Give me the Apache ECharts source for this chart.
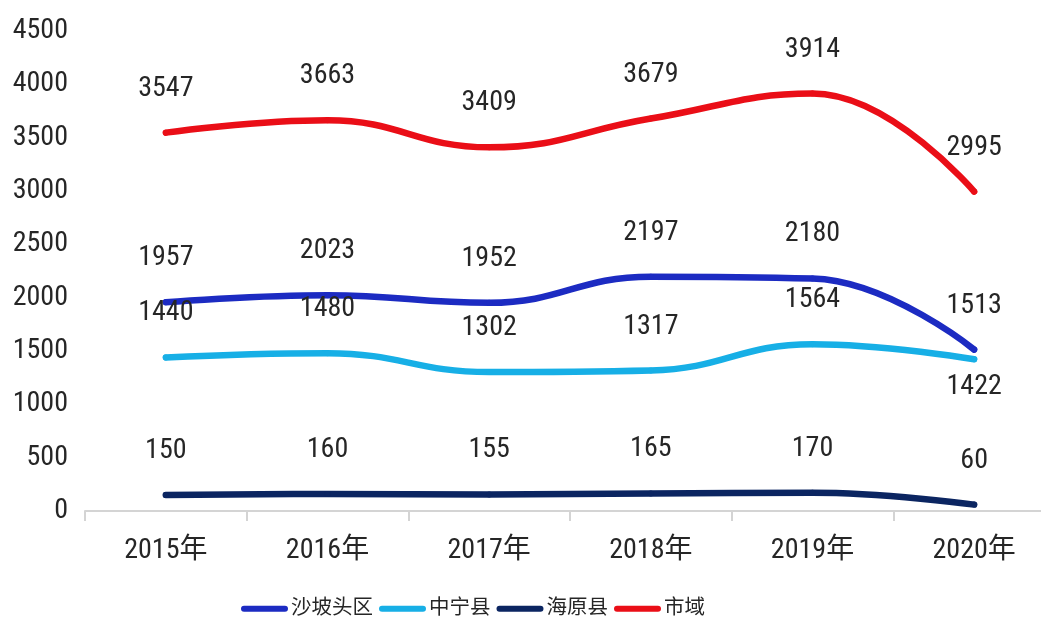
<!DOCTYPE html>
<html>
<head>
<meta charset="utf-8">
<script src="https://cdn.jsdelivr.net/npm/echarts@6/dist/echarts.min.js"></script>
<style>
  html, body { margin: 0; padding: 0; background: #fff; }
  #main { width: 1041px; height: 626px; }
</style>
</head>
<body>
<div id="main"></div>
<script>
// 年份
const years = ['2015年', '2016年', '2017年', '2018年', '2019年', '2020年'];
// 各区县数值
const shapotou = [1957, 2023, 1952, 2197, 2180, 1513];
const zhongning = [1440, 1480, 1302, 1317, 1564, 1422];
const haiyuan = [150, 160, 155, 165, 170, 60];
const shiyu = [3547, 3663, 3409, 3679, 3914, 2995];

const FONT = '"Roboto Condensed", "Noto Sans CJK SC", sans-serif';
const TXT = '#262626';

let chart = echarts.init(document.getElementById('main'));

// below: 标签放在线下方的点的下标
function mkLine (name, values, color, below) {
    return {
        name: name,
        type: 'line',
        smooth: 0.45,
        // 标签挂在symbol上, 用与线同宽同色的圆点
        symbol: 'circle',
        symbolSize: 6,
        lineStyle: { width: 6.5, color: color, cap: 'round', join: 'round' },
        itemStyle: { color: color },
        label: {
            show: true,
            position: 'top',
            distance: 27,
            fontFamily: FONT,
            fontSize: 28,
            color: TXT
        },
        data: values.map(function (v, i) {
            if (below === i) {
                return { value: v, label: { position: 'bottom', distance: 11 } };
            }
            return v;
        })
    };
}

// 胶囊形图例图标
const capsule = 'path://M3,0 L43,0 A3,3 0 0 1 43,6 L3,6 A3,3 0 0 1 3,0 Z';

let option = {
    animation: false,
    grid: { left: 85, top: 31, width: 970, bottom: 115, outerBoundsMode: 'none' },
    legend: {
        bottom: 2,
        left: 236,
        itemWidth: 47,
        itemHeight: 7,
        itemGap: 6,
        icon: capsule,
        textStyle: { fontFamily: FONT, fontSize: 20.5, color: TXT, padding: [0, 0, 0, -2] },
        data: ['沙坡头区', '中宁县', '海原县', '市域']
    },
    xAxis: {
        type: 'category',
        data: years,
        boundaryGap: true,
        axisLine: { lineStyle: { color: '#d4d4d4', width: 2 } },
        axisTick: { show: true, length: 10, lineStyle: { color: '#d4d4d4', width: 2 } },
        axisLabel: { fontFamily: FONT, fontSize: 28, color: TXT, margin: 26 }
    },
    yAxis: {
        type: 'value',
        min: 0,
        max: 4500,
        interval: 500,
        axisLine: { show: false },
        axisTick: { show: false },
        splitLine: { show: false },
        axisLabel: {
            fontFamily: FONT, fontSize: 28, color: TXT, margin: 17,
            formatter: function (v) { return String(v); }
        }
    },
    series: [
        mkLine('沙坡头区', shapotou, '#1c2bc2'),
        mkLine('中宁县', zhongning, '#17afe6', 5),
        mkLine('海原县', haiyuan, '#0b2561'),
        mkLine('市域', shiyu, '#ea0e17')
    ]
};

option && chart.setOption(option);
</script>
</body>
</html>
